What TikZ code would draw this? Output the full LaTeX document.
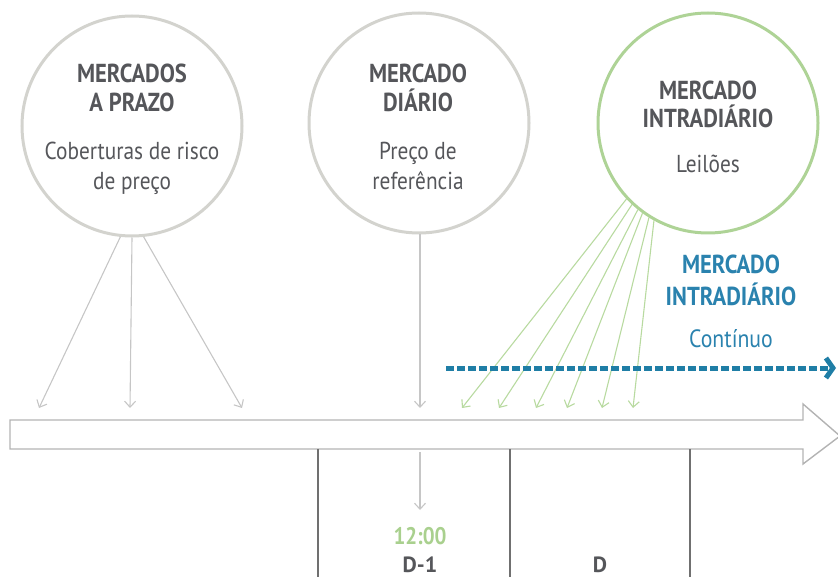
\documentclass[tikz,border=0pt]{standalone}
\usepackage{fontspec}
\setmainfont{PT Sans}[FakeStretch=0.87]
\newfontfamily\widefont{PT Sans}
\usetikzlibrary{arrows.meta}
\definecolor{txt}{HTML}{55565A}
\definecolor{cgrey}{HTML}{D3D3CE}
\definecolor{cgreen}{HTML}{AED396}
\definecolor{agrey}{HTML}{C6C6C6}
\definecolor{agreen}{HTML}{B8DAA0}
\definecolor{tblue}{HTML}{2A82AE}
\definecolor{dblue}{HTML}{1F7EA6}
\definecolor{outl}{HTML}{B3B3B3}
\definecolor{vline}{HTML}{707070}
\definecolor{tgreen}{HTML}{A9D08E}
\begin{document}
\begin{tikzpicture}[x=1pt,y=-1pt,
  circ/.style={circle, draw, line width=3pt, minimum size=220pt, inner sep=0pt},
  ttl/.style={anchor=base, text=txt, font=\bfseries\fontsize{26}{29}\selectfont},
  sub/.style={anchor=base, text=txt, font=\fontsize{24.5}{30}\selectfont},
  btl/.style={anchor=base, text=tblue, font=\bfseries\fontsize{26}{29}\selectfont},
  bsub/.style={anchor=base, text=tblue, font=\fontsize{25}{30}\selectfont},
  garr/.style={draw=agrey, line width=1.1pt, -{Straight Barb[length=6pt,width=11pt]}},
  grarr/.style={draw=agreen, line width=1.1pt, -{Straight Barb[length=6pt,width=11pt]}},
  ]
\useasboundingbox (0,0) rectangle (838,577);

% circles
\node[circ, draw=cgrey] (c1) at (132,126) {};
\node[circ, draw=cgrey] (c2) at (419,123) {};
\node[circ, draw=cgreen] (c3) at (708,123) {};

% circle texts
\node[ttl] (t1a) at (132,83) {MERCADOS};
\node[ttl] (t1b) at (132,112) {A PRAZO};
\node[sub] (t1c) at (132,160) {Coberturas de risco};
\node[sub] (t1d) at (132,190) {de preço};

\node[ttl] (t2a) at (418,83) {MERCADO};
\node[ttl] (t2b) at (418,112) {DIÁRIO};
\node[sub] (t2c) at (418,160) {Preço de};
\node[sub] (t2d) at (418,190) {referência};

\node[ttl] (t3a) at (708,100) {MERCADO};
\node[ttl] (t3b) at (708,128) {INTRADIÁRIO};
\node[sub] (t3c) at (708,173) {Leilões};

% blue text
\node[btl] (b1) at (731,274) {MERCADO};
\node[btl] (b2) at (731,306) {INTRADIÁRIO};
\node[bsub] (b3) at (731,347) {Contínuo};

% big timeline arrow
\draw[outl, line width=1.4pt, line join=miter]
  (10,420) -- (803,420) -- (803,404) -- (840,436) -- (803,464) -- (803,449) -- (10,449) -- cycle;

% vertical separators
\coordinate (v1t) at (318,449); \coordinate (v1b) at (318,577);
\coordinate (v2t) at (510,449); \coordinate (v2b) at (510,577);
\coordinate (v3t) at (690,449); \coordinate (v3b) at (690,577);
\draw[vline, line width=1.1pt] (v1t) -- (v1b) (v2t) -- (v2b) (v3t) -- (v3b);

% grey arrows from circle 1
\coordinate (e1) at (39,408);
\coordinate (e2) at (130,408);
\coordinate (e3) at (242,408);
\draw[garr] (c1.264) -- (e1);
\draw[garr] (c1.270) -- (e2);
\draw[garr] (c1.276) -- (e3);

% grey arrow from circle 2
\coordinate (e4) at (420,408);
\draw[garr] (c2.south -| e4) -- (e4);

% green arrows from circle 3
\foreach \a/\x [count=\i] in {223/462, 227/499, 231/536, 234/567, 238/602, 241/633} {
  \coordinate (g\i) at (\x,408);
  \draw[grarr] (c3.\a) -- (g\i);
}

% dashed continuous arrow
\coordinate (ds) at (446,368);
\coordinate (de) at (836,368);
\draw[dblue, line width=5pt, dash pattern=on 7.5pt off 3.5pt,
  -{Straight Barb[length=7pt,width=20pt,line width=5pt]}] (ds) -- (de);

% down arrow to 12:00
\coordinate (ds1) at (420,452);
\coordinate (ds2) at (420,510);
\draw[garr] (ds1) -- (ds2);

% bottom labels
\node[anchor=base, text=tgreen, font=\bfseries\fontsize{24}{26}\selectfont] (t12) at (420,544) {12:00};
\node[anchor=base, text=txt, font=\widefont\bfseries\fontsize{22}{24}\selectfont] (dm1) at (420,572) {D-1};
\node[anchor=base, text=txt, font=\widefont\bfseries\fontsize{22}{24}\selectfont] (d0) at (600,572) {D};
\end{tikzpicture}
\end{document}
